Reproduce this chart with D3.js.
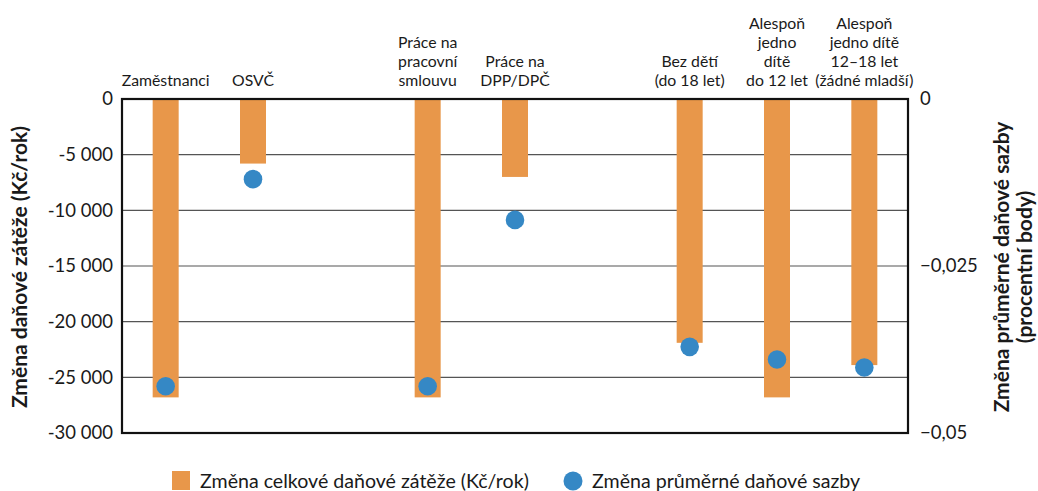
<!DOCTYPE html>
<html><head><meta charset="utf-8">
<script src="https://cdn.jsdelivr.net/npm/d3@7"></script>
<style>body{margin:0;background:#fff;} text{font-family:Lato,"Noto Sans",sans-serif;fill:#1a1a1a;}</style>
</head><body>
<svg id="c" width="1038" height="491"></svg>
<script>
const categories = ["Zaměstnanci","OSVČ","_gap1","Práce na|pracovní|smlouvu","Práce na|DPP/DPČ","_gap2","Bez dětí|(do 18 let)","Alespoň|jedno|dítě|do 12 let","Alespoň|jedno dítě|12–18 let|(žádné mladší)"];
const taxBurden = [-26800,-5800,null,-26800,-7000,null,-21900,-26800,-23900];
const avgRate = [-0.0430,-0.0120,null,-0.0430,-0.0181,null,-0.0371,-0.0390,-0.0402];
const leftTicks = [0,-5000,-10000,-15000,-20000,-25000,-30000];
const rightTicks = [0,-0.025,-0.05];
const legendLabels = ["Změna celkové daňové zátěže (Kč/rok)","Změna průměrné daňové sazby"];
const leftTitle = "Změna daňové zátěže (Kč/rok)";
const rightTitle = ["Změna průměrné daňové sazby","(procentní body)"];

const svg = d3.select("#c");
const m = {l:122, r:908, t:99, b:433};
const x = d3.scaleBand().domain(categories).range([m.l, m.r]).paddingInner(0.70).paddingOuter(0.35);
const yL = d3.scaleLinear().domain([-30000,0]).range([m.b, m.t]);
const yR = d3.scaleLinear().domain([-0.05,0]).range([m.b, m.t]);
const orange = "#E8974A", blue = "#3588C5";

// gridlines
svg.append("g").selectAll("line").data(leftTicks.filter(d=>d!==0 && d!==-30000)).join("line")
  .attr("x1",m.l).attr("x2",m.r).attr("y1",d=>yL(d)).attr("y2",d=>yL(d))
  .attr("stroke","#555").attr("stroke-width",1.2);

// bars
const bw = 26;
svg.append("g").selectAll("rect").data(categories.map((c,i)=>({c,v:taxBurden[i]})).filter(d=>d.v!==null)).join("rect")
  .attr("x",d=>x(d.c)+x.bandwidth()/2-bw/2).attr("width",bw)
  .attr("y",yL(0)).attr("height",d=>yL(d.v)-yL(0)).attr("fill",orange);

// frame
svg.append("rect").attr("x",m.l).attr("y",m.t).attr("width",m.r-m.l).attr("height",m.b-m.t)
  .attr("fill","none").attr("stroke","#111").attr("stroke-width",2.2);

// dots
svg.append("g").selectAll("circle").data(categories.map((c,i)=>({c,v:avgRate[i]})).filter(d=>d.v!==null)).join("circle")
  .attr("cx",d=>x(d.c)+x.bandwidth()/2).attr("cy",d=>yR(d.v)).attr("r",9.3).attr("fill",blue);

// left axis
const la = svg.append("g").attr("transform",`translate(${m.l},0)`)
  .call(d3.axisLeft(yL).tickValues(leftTicks).tickSize(0).tickPadding(9).tickFormat(d=>d===0?"0":(d<0?"-":"")+d3.format(",")(Math.abs(d)).replace(/,/g," ")));
la.select(".domain").remove();
la.selectAll("text").attr("font-size",18.5).attr("font-family","Lato, sans-serif").attr("fill","#1a1a1a");

// right axis
const ra = svg.append("g").attr("transform",`translate(${m.r},0)`)
  .call(d3.axisRight(yR).tickValues(rightTicks).tickSize(0).tickPadding(12).tickFormat(d=>d===0?"0":d3.format("")(d).replace(".",",")));
ra.select(".domain").remove();
ra.selectAll("text").attr("font-size",18.5).attr("font-family","Lato, sans-serif").attr("fill","#1a1a1a");

// category labels
const lh = 19;
categories.forEach(c=>{
  if(c.startsWith("_")) return;
  const lines = c.split("|");
  const t = svg.append("text").attr("text-anchor","middle").attr("font-size",15.8)
    .attr("x",x(c)+x.bandwidth()/2);
  lines.forEach((ln,i)=>{
    t.append("tspan").attr("x",x(c)+x.bandwidth()/2).attr("y",86-(lines.length-1-i)*lh).text(ln);
  });
});

// axis titles
svg.append("text").attr("transform",`translate(27,${(m.t+m.b)/2+1}) rotate(-90)`).attr("text-anchor","middle")
  .attr("font-size",21).attr("font-weight","bold").text(leftTitle);
rightTitle.forEach((t,i)=>{
  svg.append("text").attr("transform",`translate(${1009+i*23},${(m.t+m.b)/2+1}) rotate(-90)`).attr("text-anchor","middle")
    .attr("font-size",21).attr("font-weight","bold").text(t);
});

// legend
const lg = svg.append("g");
lg.append("rect").attr("x",172).attr("y",471).attr("width",18).attr("height",19).attr("fill",orange);
lg.append("text").attr("x",200).attr("y",488).attr("font-size",19.6).text(legendLabels[0]);
lg.append("circle").attr("cx",573).attr("cy",481).attr("r",9.5).attr("fill",blue);
lg.append("text").attr("x",592).attr("y",488).attr("font-size",19.6).text(legendLabels[1]);
</script>
</body></html>
